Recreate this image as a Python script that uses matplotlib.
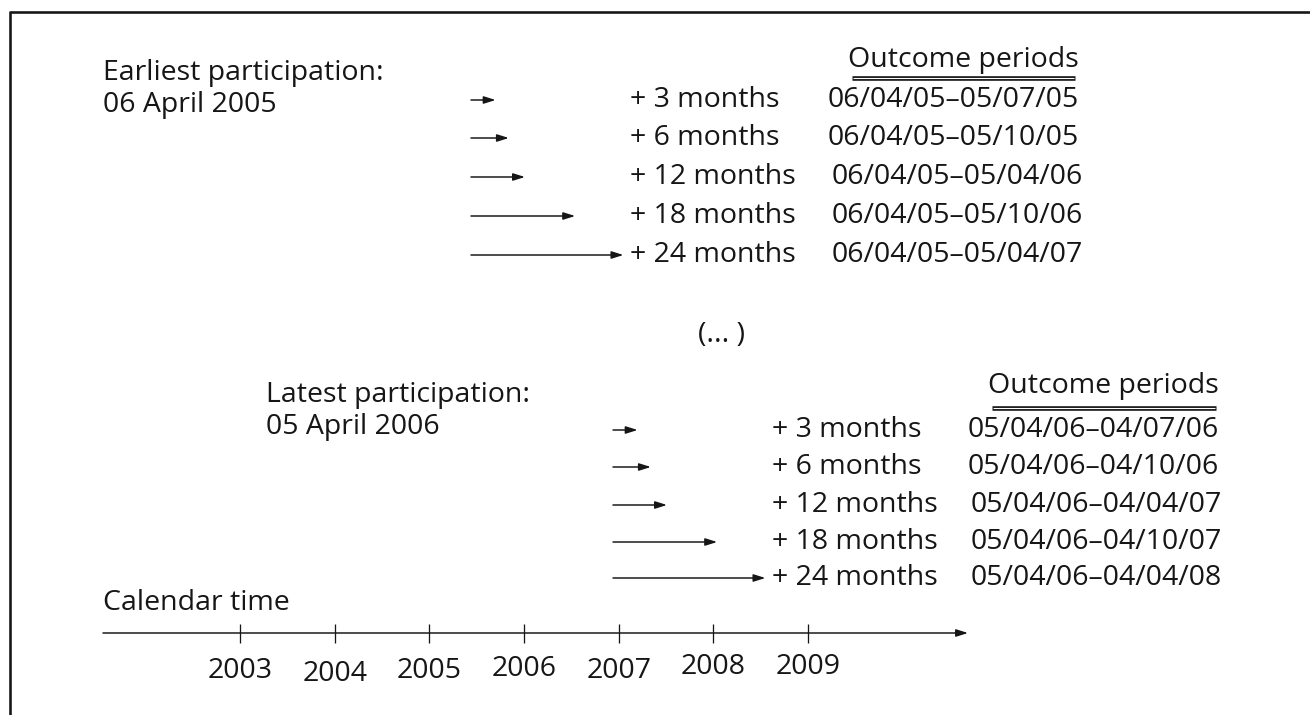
import matplotlib
matplotlib.use("Agg")
import matplotlib.pyplot as plt

# ---------------- data ----------------
months = [3, 6, 12, 18, 24]
month_labels = ["+ 3 months", "+ 6 months", "+ 12 months", "+ 18 months", "+ 24 months"]
early_periods = ["06/04/05–05/07/05", "06/04/05–05/10/05", "06/04/05–05/04/06",
                 "06/04/05–05/10/06", "06/04/05–05/04/07"]
late_periods = ["05/04/06–04/07/06", "05/04/06–04/10/06", "05/04/06–04/04/07",
                "05/04/06–04/10/07", "05/04/06–04/04/08"]
# drawn arrow spans, in units of the calendar axis (years)
arrow_span_years = [0.26, 0.40, 0.57, 1.10, 1.61]
years = [2003, 2004, 2005, 2006, 2007, 2008, 2009]
year_labels = [str(y) for y in years]

# ---------------- layout ----------------
W, H = 1310, 715
STEP = 94.67          # pixels per calendar year
X0 = 240              # pixel x of first year tick


def X(px):
    """layout pixel x -> calendar (year) units"""
    return years[0] + (px - X0) / STEP


plt.rcParams["font.family"] = ["Open Sans", "DejaVu Sans"]
FS = 20.5
INK = "#161616"
PX = 72 / 100  # points per pixel

fig = plt.figure(figsize=(W / 100, H / 100), dpi=100)
ax = fig.add_axes([0, 0, 1, 1])
ax.set_xlim(X(0), X(W))
ax.set_ylim(H, 0)
ax.axis("off")

# frame (top and left only)
ax.plot([X(10), X(W)], [12, 12], color=INK, lw=2.6 * PX, solid_capstyle="butt", clip_on=False)
ax.plot([X(10), X(10)], [11, H], color=INK, lw=2.6 * PX, solid_capstyle="butt", clip_on=False)

ARROW = dict(arrowstyle="-|>,head_length=0.7,head_width=0.22", lw=1.5 * PX,
             color=INK, mutation_scale=10, shrinkA=0, shrinkB=0)


def block(title_x, title_y, title_lines, arrow_x, row_y, label_x, period_x, periods,
          head_cx, head_y, ul_x0, ul_x1, ul_y):
    ax.text(X(title_x), title_y, title_lines[0], fontsize=FS, color=INK,
            ha="left", va="center")
    ax.text(X(title_x), title_y + 32, title_lines[1], fontsize=FS, color=INK,
            ha="left", va="center")
    ax.text(X(head_cx), head_y, "Outcome periods", fontsize=FS, color=INK,
            ha="center", va="center")
    ax.plot([X(ul_x0), X(ul_x1)], [ul_y, ul_y], color=INK, lw=4.6 * PX, solid_capstyle="butt")
    ax.plot([X(ul_x0 + 1), X(ul_x1 - 1)], [ul_y, ul_y], color="white", lw=1.1 * PX,
            solid_capstyle="butt")
    for i, (span, lab, per) in enumerate(zip(arrow_span_years, month_labels, periods)):
        y = row_y[i]
        ax.annotate("", xy=(X(arrow_x) + span, y), xytext=(X(arrow_x), y), arrowprops=ARROW)
        ax.text(X(label_x), y, lab, fontsize=FS, color=INK, ha="left", va="center")
        ax.text(X(period_x[i]), y, per, fontsize=FS, color=INK, ha="left", va="center")


block(103, 73, ["Earliest participation:", "06 April 2005"], 471,
      [100, 138, 177, 216, 255], 630, [828, 828, 832, 832, 832], early_periods,
      963, 60, 852, 1075, 78)

ax.text(X(722), 335, "(... )", fontsize=FS, color=INK, ha="center", va="center")

block(266, 395, ["Latest participation:", "05 April 2006"], 613,
      [430, 467, 505, 542, 578], 772, [968, 968, 971, 971, 971], late_periods,
      1103, 386, 992, 1216, 408)

# calendar time axis
ax.text(X(103), 603, "Calendar time", fontsize=FS, color=INK, ha="left", va="center")
ax.annotate("", xy=(X(968), 633), xytext=(X(103), 633), arrowprops=ARROW)
ax.vlines(years, 624, 643, color=INK, lw=1.3 * PX)
label_dy = [0, 3, 0, -2, 0, -4, -4]
for yr, lab, dy in zip(years, year_labels, label_dy):
    ax.text(yr, 671 + dy, lab, fontsize=FS, color=INK, ha="center", va="center")

fig.savefig("out.png", dpi=100)
